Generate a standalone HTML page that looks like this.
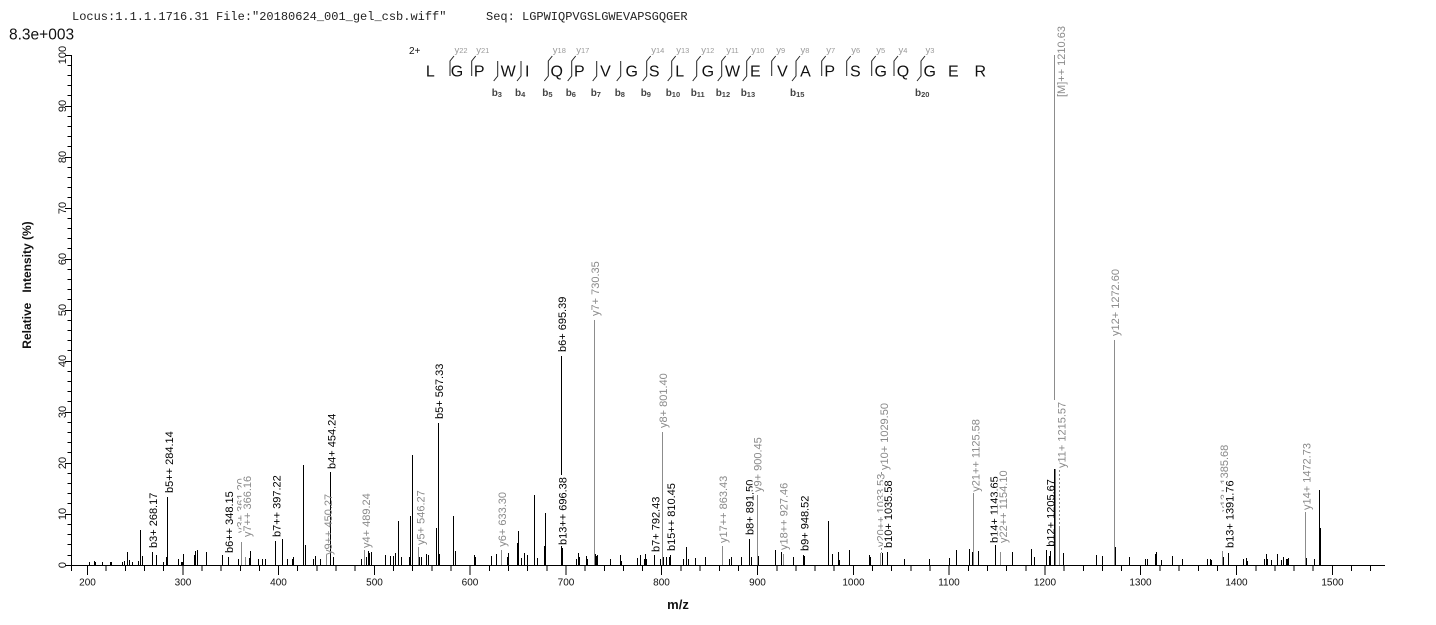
<!DOCTYPE html>
<html><head><meta charset="utf-8"><style>
html,body{margin:0;padding:0;background:#fff;}
svg{display:block;}
text{font-family:"Liberation Sans",Arial,sans-serif;}
.t{font-family:"Liberation Mono","Courier New",monospace;font-size:12px;fill:#222;white-space:pre;}
.pl{font-size:11px;}
.g{fill:#8a8a8a;}
.k{fill:#000;}
.ax{font-size:10px;fill:#111;}
.ay{font-size:11px;fill:#111;}
</style></head><body>
<svg width="1436" height="625" viewBox="0 0 1436 625" xmlns="http://www.w3.org/2000/svg">
<rect width="1436" height="625" fill="#fff"/>
<!-- header -->
<text class="t" x="72" y="20">Locus:1.1.1.1716.31 File:"20180624_001_gel_csb.wiff"</text>
<text class="t" x="486" y="20">Seq: LGPWIQPVGSLGWEVAPSGQGER</text>
<text x="9" y="39.5" font-size="15.5" fill="#111">8.3e+003</text>

<!-- sequence -->
<text x="409" y="54" font-size="10" fill="#111">2+</text>
<g font-size="16" fill="#111" text-anchor="middle">
<text x="430.3" y="76.3">L</text><text x="457" y="76.3">G</text><text x="479.2" y="76.3">P</text><text x="508.2" y="76.3">W</text><text x="527.2" y="76.3">I</text><text x="556.7" y="76.3">Q</text><text x="579.3" y="76.3">P</text><text x="605.5" y="76.3">V</text><text x="631.7" y="76.3">G</text><text x="654.2" y="76.3">S</text><text x="679.7" y="76.3">L</text><text x="707.8" y="76.3">G</text><text x="732.5" y="76.3">W</text><text x="755.3" y="76.3">E</text><text x="782.5" y="76.3">V</text><text x="805.5" y="76.3">A</text><text x="829.7" y="76.3">P</text><text x="855.3" y="76.3">S</text><text x="880.7" y="76.3">G</text><text x="903" y="76.3">Q</text><text x="929.7" y="76.3">G</text><text x="953.3" y="76.3">E</text><text x="980.3" y="76.3">R</text>
</g>
<path fill="none" stroke="#222" stroke-width="1" d="
M450 76V61L454 56 M471.7 76V61L475.7 56 M771.7 76V61L775.7 56 M821.7 76V61L825.7 56 M846.7 76V61L850.7 56 M871.7 76V61L875.7 56 M894 76V61L898 56
M497.7 61V76L493.7 81 M521 61V76L517 81 M596.7 61V76L592.7 81 M620.7 61V76L616.7 81
M552.3 56L548.3 61V76L544.3 81 M575.7 56L571.7 61V76L567.7 81 M650.7 56L646.7 61V76L642.7 81 M675.7 56L671.7 61V76L667.7 81 M700.7 56L696.7 61V76L692.7 81 M725.7 56L721.7 61V76L717.7 81 M750.7 56L746.7 61V76L742.7 81 M800 56L796 61V76L792 81 M925 56L921 61V76L917 81"/>
<g fill="#9a9a9a" font-size="9.5">
<text x="454.5" y="53">y<tspan font-size="7.5">22</tspan></text>
<text x="476.2" y="53">y<tspan font-size="7.5">21</tspan></text>
<text x="552.8" y="53">y<tspan font-size="7.5">18</tspan></text>
<text x="576.2" y="53">y<tspan font-size="7.5">17</tspan></text>
<text x="651.2" y="53">y<tspan font-size="7.5">14</tspan></text>
<text x="676.2" y="53">y<tspan font-size="7.5">13</tspan></text>
<text x="701.2" y="53">y<tspan font-size="7.5">12</tspan></text>
<text x="726.2" y="53">y<tspan font-size="7.5">11</tspan></text>
<text x="751.2" y="53">y<tspan font-size="7.5">10</tspan></text>
<text x="776.2" y="53">y<tspan font-size="7.5">9</tspan></text>
<text x="800.5" y="53">y<tspan font-size="7.5">8</tspan></text>
<text x="826.2" y="53">y<tspan font-size="7.5">7</tspan></text>
<text x="851.2" y="53">y<tspan font-size="7.5">6</tspan></text>
<text x="876.2" y="53">y<tspan font-size="7.5">5</tspan></text>
<text x="898.5" y="53">y<tspan font-size="7.5">4</tspan></text>
<text x="925.5" y="53">y<tspan font-size="7.5">3</tspan></text>
</g>
<g fill="#444" font-size="10" font-weight="bold">
<text x="491.7" y="96">b<tspan font-size="7.5" dy="1">3</tspan></text>
<text x="515" y="96">b<tspan font-size="7.5" dy="1">4</tspan></text>
<text x="542.3" y="96">b<tspan font-size="7.5" dy="1">5</tspan></text>
<text x="565.7" y="96">b<tspan font-size="7.5" dy="1">6</tspan></text>
<text x="590.7" y="96">b<tspan font-size="7.5" dy="1">7</tspan></text>
<text x="614.7" y="96">b<tspan font-size="7.5" dy="1">8</tspan></text>
<text x="640.7" y="96">b<tspan font-size="7.5" dy="1">9</tspan></text>
<text x="665.7" y="96">b<tspan font-size="7.5" dy="1">10</tspan></text>
<text x="690.7" y="96">b<tspan font-size="7.5" dy="1">11</tspan></text>
<text x="715.7" y="96">b<tspan font-size="7.5" dy="1">12</tspan></text>
<text x="740.7" y="96">b<tspan font-size="7.5" dy="1">13</tspan></text>
<text x="790" y="96">b<tspan font-size="7.5" dy="1">15</tspan></text>
<text x="915" y="96">b<tspan font-size="7.5" dy="1">20</tspan></text>
</g>

<!-- axes -->
<g stroke="#000" stroke-width="1" shape-rendering="crispEdges" fill="none">
<path d="M71.5 55V571 M71 565.5H1385"/>
<path d="M65 565.5H71.5 M65 514.5H71.5 M65 463.5H71.5 M65 412.5H71.5 M65 361.5H71.5 M65 310.5H71.5 M65 259.5H71.5 M65 208.5H71.5 M65 157.5H71.5 M65 106.5H71.5 M65 55.5H71.5"/>
<path d="M67.5 555.5H71.5 M67.5 544.5H71.5 M67.5 534.5H71.5 M67.5 524.5H71.5 M67.5 503.5H71.5 M67.5 493.5H71.5 M67.5 483.5H71.5 M67.5 473.5H71.5 M67.5 452.5H71.5 M67.5 442.5H71.5 M67.5 432.5H71.5 M67.5 422.5H71.5 M67.5 401.5H71.5 M67.5 391.5H71.5 M67.5 381.5H71.5 M67.5 371.5H71.5 M67.5 350.5H71.5 M67.5 340.5H71.5 M67.5 330.5H71.5 M67.5 320.5H71.5 M67.5 299.5H71.5 M67.5 289.5H71.5 M67.5 279.5H71.5 M67.5 269.5H71.5 M67.5 248.5H71.5 M67.5 238.5H71.5 M67.5 228.5H71.5 M67.5 218.5H71.5 M67.5 197.5H71.5 M67.5 187.5H71.5 M67.5 177.5H71.5 M67.5 167.5H71.5 M67.5 146.5H71.5 M67.5 136.5H71.5 M67.5 126.5H71.5 M67.5 116.5H71.5 M67.5 95.5H71.5 M67.5 85.5H71.5 M67.5 75.5H71.5 M67.5 65.5H71.5"/>
<path d="M87.5 565V575 M183 565V575 M278.5 565V575 M374.5 565V575 M470 565V575 M566 565V575 M661.5 565V575 M757.5 565V575 M853.5 565V575 M949 565V575 M1045 565V575 M1140.5 565V575 M1236.5 565V575 M1332.5 565V575"/>
<path d="M106 565V571 M125.5 565V571 M144.5 565V571 M163.5 565V571 M202 565V571 M221 565V571 M240.5 565V571 M259.5 565V571 M297.5 565V571 M317 565V571 M336 565V571 M355 565V571 M393.5 565V571 M412.5 565V571 M432 565V571 M451 565V571 M489.5 565V571 M508.5 565V571 M527.5 565V571 M547 565V571 M585 565V571 M604.5 565V571 M623.5 565V571 M642.5 565V571 M681 565V571 M700 565V571 M719.5 565V571 M738.5 565V571 M777 565V571 M796 565V571 M815 565V571 M834 565V571 M872.5 565V571 M891.5 565V571 M911 565V571 M930 565V571 M968.5 565V571 M987.5 565V571 M1006.5 565V571 M1026 565V571 M1064 565V571 M1083.5 565V571 M1102.5 565V571 M1121.5 565V571 M1160 565V571 M1179 565V571 M1198.5 565V571 M1217.5 565V571 M1256 565V571 M1275 565V571 M1294 565V571 M1313 565V571 M1351.5 565V571 M1370.5 565V571"/>
</g>
<g class="ax" text-anchor="middle">
<text x="87.5" y="585.5">200</text><text x="183" y="585.5">300</text><text x="278.5" y="585.5">400</text><text x="374.5" y="585.5">500</text><text x="470" y="585.5">600</text><text x="566" y="585.5">700</text><text x="661.5" y="585.5">800</text><text x="757.5" y="585.5">900</text><text x="853.5" y="585.5">1000</text><text x="949" y="585.5">1100</text><text x="1045" y="585.5">1200</text><text x="1140.5" y="585.5">1300</text><text x="1236.5" y="585.5">1400</text><text x="1332.5" y="585.5">1500</text>
</g>
<g class="ay" text-anchor="middle">
<text x="66" y="565" transform="rotate(-90 66 565)">0</text>
<text x="66" y="514" transform="rotate(-90 66 514)">10</text>
<text x="66" y="463" transform="rotate(-90 66 463)">20</text>
<text x="66" y="412" transform="rotate(-90 66 412)">30</text>
<text x="66" y="361" transform="rotate(-90 66 361)">40</text>
<text x="66" y="310" transform="rotate(-90 66 310)">50</text>
<text x="66" y="259" transform="rotate(-90 66 259)">60</text>
<text x="66" y="208" transform="rotate(-90 66 208)">70</text>
<text x="66" y="157" transform="rotate(-90 66 157)">80</text>
<text x="66" y="106" transform="rotate(-90 66 106)">90</text>
<text x="66" y="55" transform="rotate(-90 66 55)">100</text>
</g>
<text x="31" y="285" font-size="12" font-weight="bold" text-anchor="middle" fill="#111" style="white-space:pre" transform="rotate(-90 31 285)">Relative   Intensity (%)</text>
<text x="678" y="609" font-size="13" font-weight="bold" text-anchor="middle" fill="#111">m/z</text>

<!-- peaks -->
<path fill="none" stroke="#000" stroke-width="1" shape-rendering="crispEdges" d="
M89.5 562V565M94.5 561V565M95.5 562V565M102.5 562V565M110.5 562V565M111.5 562V565M122.5 562V565M124.5 561V565M127.5 552V565M129.5 560V565M132.5 562V565M138.5 561V565M140.5 530V565M142.5 556V565M152.5 552V565M156.5 555V565M163.5 562V565M166.5 557V565M167.5 497V565M178.5 559V565M181.5 562V565M182.5 562V565M183.5 554V565M194.5 555V565M195.5 551V565M197.5 550V565M206.5 552V565M222.5 555V565M228.5 557V565M238.5 559V565M249.5 558V565M250.5 551V565M258.5 559V565M262.5 559V565M265.5 559V565M275.5 541V565M282.5 539V565M287.5 559V565M292.5 559V565M293.5 557V565M303.5 465V565M305.5 545V565M313.5 559V565M315.5 556V565M320.5 559V565M330.5 472V565M333.5 557V565M361.5 559V565M366.5 557V565M368.5 551V565M369.5 553V565M371.5 552V565M385.5 555V565M390.5 556V565M393.5 556V565M395.5 553V565M398.5 521V565M401.5 557V565M409.5 557V565M410.5 516V565M412.5 455V565M419.5 557V565M421.5 557V565M426.5 554V565M428.5 555V565M436.5 528V565M438.5 423V565M439.5 554V565M453.5 516V565M455.5 551V565
M474.5 555V565M475.5 557V565M491.5 556V565M496.5 554V565M507.5 557V565M508.5 553V565M517.5 543V565M518.5 531V565M521.5 558V565M524.5 553V565M527.5 555V565M534.5 495V565M537.5 558V565M544.5 546V565M545.5 513V565M561.5 356V565M562.5 548V565M576.5 559V565M578.5 553V565M579.5 557V565M586.5 556V565M587.5 559V565M595.5 554V565M596.5 556V565M597.5 555V565M610.5 559V565M620.5 555V565M621.5 561V565M637.5 558V565M640.5 555V565M644.5 559V565M645.5 554V565M646.5 559V565M654.5 555V565M660.5 559V565M663.5 557V565M666.5 557V565M669.5 557V565M670.5 555V565M683.5 559V565M686.5 547V565M688.5 559V565M695.5 558V565M705.5 557V565M729.5 559V565M731.5 557V565M741.5 557V565M749.5 539V565M751.5 557V565M758.5 556V565M775.5 550V565M781.5 552V565M793.5 557V565M803.5 555V565M804.5 556V565M828.5 521V565M832.5 554V565M838.5 552V565M839.5 560V565M849.5 550V565
M869.5 555V565M870.5 557V565M882.5 553V565M887.5 552V565M904.5 559V565M929.5 559V565M949.5 558V565M956.5 550V565M969.5 549V565M972.5 552V565M978.5 551V565M995.5 545V565M1012.5 552V565M1031.5 549V565M1034.5 557V565M1046.5 550V565M1049.5 556V565M1050.5 551V565M1063.5 553V565M1096.5 555V565M1102.5 556V565M1115.5 547V565M1129.5 557V565M1145.5 559V565M1147.5 559V565M1155.5 554V565M1156.5 552V565M1161.5 560V565M1172.5 556V565M1182.5 559V565M1207.5 559V565M1210.5 559V565M1211.5 560V565M1223.5 557V565M1228.5 553V565M1243.5 559V565M1246.5 558V565M1247.5 561V565M1264.5 559V565M1266.5 554V565M1267.5 559V565M1271.5 560V565M1277.5 554V565M1281.5 560V565M1283.5 557V565M1286.5 559V565M1287.5 559V565M1288.5 558V565M1306.5 558V565M1314.5 559V565M1319.5 490V565M1320.5 528V565"/>
<path fill="none" stroke="#8c8c8c" stroke-width="1" shape-rendering="crispEdges" d="
M241.5 542V565M245.5 557V565M326.5 555V565M364.5 550V565M418.5 547V565M501.5 550V565M594.5 320V565M662.5 432V565M722.5 546V565M757.5 495V565M783.5 554V565M880.5 553V565M973.5 493V565M1000.5 552V565M1054.5 55V400M1059.5 528V565M1114.5 340V565M1222.5 551V565M1305.5 512V565"/>
<path fill="none" stroke="#8c8c8c" stroke-width="1" stroke-dasharray="2 2" shape-rendering="crispEdges" d="M881.5 472V553 M1059.5 470V528"/>

<!-- peak labels -->
<g class="pl">
<text class="k" x="156.9" y="548" transform="rotate(-90 156.9 548)">b3+ 268.17</text>
<text class="k" x="172.9" y="493" transform="rotate(-90 172.9 493)">b5++ 284.14</text>
<text class="k" x="232.9" y="553" transform="rotate(-90 232.9 553)">b6++ 348.15</text>
<text class="g" x="244.4" y="533" transform="rotate(-90 244.4 533)">y3+ 361.20</text>
<rect x="241.5" y="475" width="11" height="63" fill="#fff"/>
<text class="g" x="250.9" y="537" transform="rotate(-90 250.9 537)">y7++ 366.16</text>
<text class="k" x="280.6" y="537" transform="rotate(-90 280.6 537)">b7++ 397.22</text>
<text class="g" x="331.9" y="555" transform="rotate(-90 331.9 555)">y9++ 450.27</text>
<text class="k" x="335.4" y="469" transform="rotate(-90 335.4 469)">b4+ 454.24</text>
<text class="g" x="369.9" y="548" transform="rotate(-90 369.9 548)">y4+ 489.24</text>
<text class="g" x="424.4" y="545" transform="rotate(-90 424.4 545)">y5+ 546.27</text>
<text class="k" x="442.9" y="419" transform="rotate(-90 442.9 419)">b5+ 567.33</text>
<text class="g" x="506.2" y="546.7" transform="rotate(-90 506.2 546.7)">y6+ 633.30</text>
<text class="k" x="565.9" y="352" transform="rotate(-90 565.9 352)">b6+ 695.39</text>
<rect x="557" y="475" width="11" height="71" fill="#fff"/>
<text class="k" x="566.4" y="545" transform="rotate(-90 566.4 545)">b13++ 696.38</text>
<text class="g" x="598.9" y="316" transform="rotate(-90 598.9 316)">y7+ 730.35</text>
<text class="k" x="659.7" y="552" transform="rotate(-90 659.7 552)">b7+ 792.43</text>
<text class="g" x="666.9" y="428" transform="rotate(-90 666.9 428)">y8+ 801.40</text>
<text class="k" x="675.2" y="551" transform="rotate(-90 675.2 551)">b15++ 810.45</text>
<text class="g" x="727.2" y="543" transform="rotate(-90 727.2 543)">y17++ 863.43</text>
<text class="k" x="753.4" y="535" transform="rotate(-90 753.4 535)">b8+ 891.50</text>
<rect x="752.5" y="436" width="10.5" height="57" fill="#fff"/>
<text class="g" x="761.4" y="492" transform="rotate(-90 761.4 492)">y9+ 900.45</text>
<text class="g" x="787.4" y="550" transform="rotate(-90 787.4 550)">y18++ 927.46</text>
<text class="k" x="808.6" y="551" transform="rotate(-90 808.6 551)">b9+ 948.52</text>
<text class="g" x="887.9" y="470" transform="rotate(-90 887.9 470)">y10+ 1029.50</text>
<rect x="875.5" y="476" width="10" height="72" fill="#fff"/>
<text class="g" x="884.4" y="547" transform="rotate(-90 884.4 547)">y20++ 1033.53</text>
<rect x="883" y="479" width="11" height="70" fill="#fff"/>
<text class="k" x="892.2" y="548" transform="rotate(-90 892.2 548)">b10+ 1035.58</text>
<text class="g" x="979.7" y="491.7" transform="rotate(-90 979.7 491.7)">y21++ 1125.58</text>
<text class="k" x="997.9" y="543" transform="rotate(-90 997.9 543)">b14+ 1143.65</text>
<rect x="997.5" y="468" width="11" height="76" fill="#fff"/>
<text class="g" x="1006.9" y="543" transform="rotate(-90 1006.9 543)">y22++ 1154.10</text>
<text class="k" x="1054.6" y="546.7" transform="rotate(-90 1054.6 546.7)">b12+ 1205.67</text>
<text class="g" x="1064.9" y="97" transform="rotate(-90 1064.9 97)">[M]++ 1210.63</text>
<text class="g" x="1065.6" y="468" transform="rotate(-90 1065.6 468)">y11+ 1215.57</text>
<text class="g" x="1118.9" y="336" transform="rotate(-90 1118.9 336)">y12+ 1272.60</text>
<text class="g" x="1227.9" y="511.7" transform="rotate(-90 1227.9 511.7)">y13+ 1385.68</text>
<rect x="1224" y="479" width="11" height="70" fill="#fff"/>
<text class="k" x="1233.4" y="548" transform="rotate(-90 1233.4 548)">b13+ 1391.76</text>
<text class="g" x="1310.6" y="510" transform="rotate(-90 1310.6 510)">y14+ 1472.73</text>
</g>
<path fill="none" stroke="#000" stroke-width="1.5" shape-rendering="crispEdges" d="M1054.5 469V565"/>
</svg>
</body></html>
